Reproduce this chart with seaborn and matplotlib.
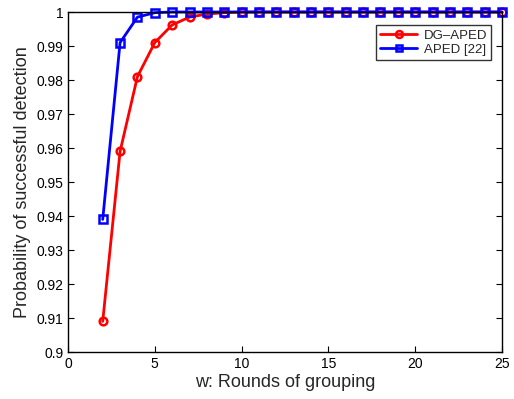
import matplotlib
matplotlib.use("Agg")
import matplotlib.pyplot as plt
import seaborn as sns
import pandas as pd

w = list(range(2, 26))
dg_aped = [0.909, 0.959, 0.981, 0.991, 0.9962, 0.9985, 0.9994, 0.9998] + [1.0] * 16
aped = [0.939, 0.991, 0.9985, 0.9998] + [1.0] * 20

colors = {"DG\u2013APED": "#ff0000", "APED [22]": "#0000ff"}

df = pd.concat([
    pd.DataFrame({"w": w, "p": dg_aped, "method": "DG\u2013APED"}),
    pd.DataFrame({"w": w, "p": aped, "method": "APED [22]"}),
])

sns.set_style("ticks")
plt.rcParams["font.family"] = ["Liberation Sans", "DejaVu Sans"]

fig = plt.figure(figsize=(5.14, 3.99), dpi=100)
ax = fig.add_axes([68 / 514, 1 - 352 / 399, (502 - 68) / 514, (352 - 12) / 399])

sns.lineplot(data=df, x="w", y="p", hue="method", style="method",
             palette=colors, markers={"DG\u2013APED": "o", "APED [22]": "s"},
             dashes=False, linewidth=2, markersize=5.5, ax=ax, clip_on=False)

def fix(line):
    c = line.get_color()
    line.set_markerfacecolor("none")
    line.set_markeredgecolor(c)
    line.set_markeredgewidth(1.8)
    line.set_linestyle("-")

for line in ax.lines:
    fix(line)

ax.set_xlim(0, 25)
ax.set_ylim(0.9, 1.0)
ax.set_xticks(range(0, 26, 5))
ax.set_yticks([0.9 + 0.01 * i for i in range(11)])
ax.set_yticklabels(["0.9", "0.91", "0.92", "0.93", "0.94", "0.95", "0.96", "0.97", "0.98", "0.99", "1"])
ax.tick_params(direction="in", labelsize=10, length=4, top=False, right=True, colors="black")
for s in ax.spines.values():
    s.set_visible(True)
    s.set_linewidth(1)
    s.set_color("black")

ax.set_xlabel("w: Rounds of grouping", fontsize=13, labelpad=2)
ax.set_ylabel("Probability of successful detection", fontsize=13, labelpad=4)

leg = ax.legend(loc="upper right", bbox_to_anchor=(0.99, 0.98), fontsize=9.5,
                frameon=True, fancybox=False, edgecolor="black", handlelength=2.8,
                borderpad=0.3, labelspacing=0.15, handletextpad=0.5)
leg.get_frame().set_linewidth(1)
for h in leg.legend_handles:
    fix(h)
    h.set_markersize(5)

fig.savefig("out.png", dpi=100)
